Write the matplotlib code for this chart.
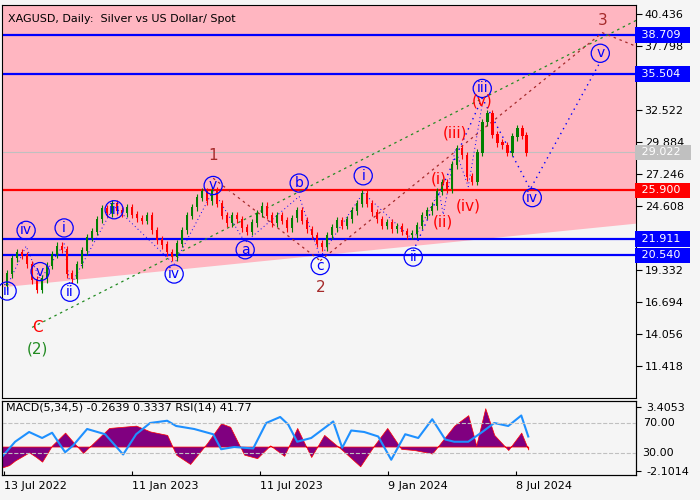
import matplotlib
matplotlib.use("Agg")
import matplotlib.pyplot as plt
import numpy as np

# ---------------- data ----------------
bar_x = list(range(0, 521, 5)) + [524]
closes = [18.0,19.0,20.3,20.8,20.5,19.8,18.5,17.7,18.6,19.7,20.6,21.3,21.0,19.0,18.6,19.8,20.9,22.0,22.5,23.5,
          24.4,24.0,24.8,24.2,24.0,24.5,23.9,23.6,23.4,23.8,22.6,21.8,21.4,20.8,20.4,21.5,22.6,23.8,24.5,25.3,
          25.8,25.0,25.9,24.8,23.8,23.2,23.8,23.5,22.8,22.5,23.2,24.0,24.6,23.8,23.2,23.8,23.4,22.8,23.6,24.2,
          23.4,22.7,22.2,21.5,21.2,22.2,22.8,23.4,23.0,23.5,24.2,24.8,25.6,24.8,24.1,23.5,23.0,23.2,22.7,22.9,
          22.5,22.2,22.3,23.0,23.8,24.2,24.6,25.8,26.5,26.0,28.0,29.3,28.8,27.0,26.6,29.0,31.5,32.2,30.5,29.8,
          29.6,29.0,30.3,31.0,30.4,29.0]
levels = [38.709, 35.504, 25.900, 21.911, 20.540]
level_colors = ["#0000ff", "#0000ff", "#ff0000", "#0000ff", "#0000ff"]
last_price = 29.022
yticks = [40.436, 37.798, 35.160, 32.522, 29.884, 27.246, 24.608, 21.970, 19.332, 16.694, 14.056, 11.418]

circ_labels = [("ii",5,17.6),("iv",24,22.6),("v",38,19.2),("i",62,22.8),("ii",68,17.5),("iii",112,24.3),
               ("iv",172,19.0),("v",211,26.3),("a",243,21.0),("b",297,26.5),("c",318,19.7),("i",361,27.1),
               ("ii",411,20.4),("iii",480,34.3),("iv",530,25.3),("v",598,37.2)]
red_labels = [("(i)",437,26.8),("(ii)",441,23.3),("(iii)",453,30.6),("(iv)",466,24.6),("(v)",480,33.3)]
wave_labels = [("1",211,28.8,"#a52a2a"),("2",318,17.9,"#a52a2a"),("3",600,39.9,"#a52a2a"),
               ("C",35,14.6,"#ff0000"),("(2)",35,12.8,"#228b22")]

rsi_x = [0,13,27,40,50,63,71,85,103,121,134,148,165,174,192,211,219,232,251,264,278,286,295,309,322,331,340,349,
         362,376,389,403,416,430,443,452,466,480,492,506,519,526]
rsi_v = [25,45,58,50,57,31,40,62,55,28,55,70,73,66,62,55,35,38,36,70,78,68,45,50,63,72,37,60,58,52,21,55,50,75,
         48,45,45,58,70,66,80,52]
macd_x = [0,7,13,27,34,40,50,63,71,81,90,107,134,148,165,174,188,205,219,228,242,255,268,282,295,309,322,340,
          358,372,385,399,412,430,452,466,474,483,492,506,519,526]
macd_v = [-1.8,-1.6,-1.2,-0.5,-0.9,-1.3,0.1,1.2,0.4,-0.55,0.2,1.6,1.8,1.3,1.0,-0.7,-1.5,0.3,2.0,1.7,-0.7,-1.0,0.1,
          -0.8,1.6,-0.9,1.0,-0.3,-1.7,0.1,1.6,-0.2,-0.3,-0.6,1.8,2.7,0.1,3.3,1.0,-0.3,1.2,-0.26]
xtick_pos = [2,130,258,386,514]
xtick_labels = ["13 Jul 2022","11 Jan 2023","11 Jul 2023","9 Jan 2024","8 Jul 2024"]

# ---------------- figure ----------------
bg = "#f5f5f5"
fig = plt.figure(figsize=(7,5), dpi=100, facecolor=bg)
ax = fig.add_axes([0.003, 0.204, 0.906, 0.786], facecolor=bg)
ax2 = fig.add_axes([0.003, 0.05, 0.906, 0.148], facecolor=bg)
xmin, xmax = 0, 634
ax.set_xlim(xmin, xmax); ax.set_ylim(8.78, 41.18)

ax.fill_between([xmin, xmax], [17.95, 23.2], [41.18, 41.18], color="#ffb6c1", zorder=0, lw=0)

for lv, c in zip(levels, level_colors):
    ax.axhline(lv, color=c, lw=1.6, zorder=2)
ax.axhline(last_price, color="#c0c0c0", lw=0.8, zorder=1)

for i in range(1, len(closes)):
    o, cl = closes[i-1], closes[i]
    x = bar_x[i]
    col = "#008000" if cl >= o else "#ff0000"
    ax.vlines(x, min(o, cl)-0.3, max(o, cl)+0.3, color=col, lw=0.8, zorder=3)
    ax.bar(x, abs(cl-o)+0.05, bottom=min(o, cl), width=2.5, color=col, zorder=3)

ax.plot([30, 636], [14.6, 40.0], ls=(0,(2,3)), color="#228b22", lw=0.9, zorder=2)
ax.plot([211, 318], [26.9, 20.1], ls=(0,(2,3)), color="#a52a2a", lw=0.9, zorder=2)
ax.plot([318, 600, 636], [20.1, 38.9, 37.7], ls=(0,(2,3)), color="#a52a2a", lw=0.9, zorder=2)
ax.plot([411, 480, 528, 598], [20.9, 33.5, 26.0, 36.5], ls=(0,(1,3)), color="#0000ff", lw=1.0, zorder=2)
ax.plot([5, 24, 38, 62, 68, 112, 172, 211], [18.0, 21.3, 18.5, 21.5, 18.0, 24.6, 19.8, 25.9],
        ls=(0,(1,3)), color="#0000ff", lw=0.7, zorder=2)
ax.plot([211, 243, 297, 318], [25.9, 21.6, 25.4, 20.4], ls=(0,(1,3)), color="#0000ff", lw=0.7, zorder=2)
ax.plot([318, 361, 411, 437, 441, 453, 466, 480], [20.4, 25.7, 21.8, 25.8, 23.9, 29.3, 26.2, 33.0],
        ls=(0,(1,3)), color="#0000ff", lw=0.7, zorder=2)

for t, x, y in circ_labels:
    ax.text(x, y, t, color="#0000ff", fontsize=10, ha="center", va="center", zorder=5,
            bbox=dict(boxstyle="circle,pad=0.15", fc="none", ec="#0000ff", lw=0.9))
for t, x, y in red_labels:
    ax.text(x, y, t, color="#ff0000", fontsize=11, ha="center", va="center", zorder=5)
for t, x, y, c in wave_labels:
    ax.text(x, y, t, color=c, fontsize=11, ha="center", va="center", zorder=5)

ax.text(6, 40.0, "XAGUSD, Daily:  Silver vs US Dollar/ Spot", fontsize=8, va="center")

ax.yaxis.tick_right()
ax.set_yticks(yticks)
ax.set_yticklabels([f"{v:.3f}" for v in yticks], fontsize=8)
ax.tick_params(axis="y", length=4, pad=2)
ax.set_xticks([])
for lv, c in list(zip(levels, level_colors)) + [(last_price, "#c0c0c0")]:
    ax.text(1.003, (lv-8.78)/(41.18-8.78), f" {lv:.3f}  ", transform=ax.transAxes, color="white",
            fontsize=8, va="center", ha="left", zorder=6,
            bbox=dict(boxstyle="square,pad=0.25", fc=c, ec="none"))

ax2.set_xlim(xmin, xmax); ax2.set_ylim(-2.45, 3.92)
ax2.fill_between(macd_x, 0, macd_v, color="#800080", lw=0.5, ec="#ff0000", zorder=2)
ax2b = ax2.twinx()
ax2b.set_ylim(0.67, 99.3)
ax2b.plot(rsi_x, rsi_v, color="#1e90ff", lw=1.5)
ax2b.axhline(70, color="#c0c0c0", ls="--", lw=0.8)
ax2b.axhline(30, color="#c0c0c0", ls="--", lw=0.8)
ax2b.set_yticks([])
ax2.yaxis.tick_right()
ax2.set_yticks([3.4053, -2.1014]); ax2.set_yticklabels(["3.4053", "-2.1014"], fontsize=8)
for yv, lab in [(70, "70.00"), (30, "30.00")]:
    ax2b.text(1.01, (yv-0.67)/(99.3-0.67), lab, transform=ax2b.transAxes, fontsize=8, va="center")
ax2.set_xticks(xtick_pos)
ax2.set_xticklabels(xtick_labels, fontsize=8, ha="left")
ax2.tick_params(axis="x", direction="in", length=3, pad=4)
ax2.text(4, 3.35, "MACD(5,34,5) -0.2639 0.3337 RSI(14) 41.77", fontsize=8, va="center", zorder=6)

fig.savefig("out.png", dpi=100, facecolor=bg)
